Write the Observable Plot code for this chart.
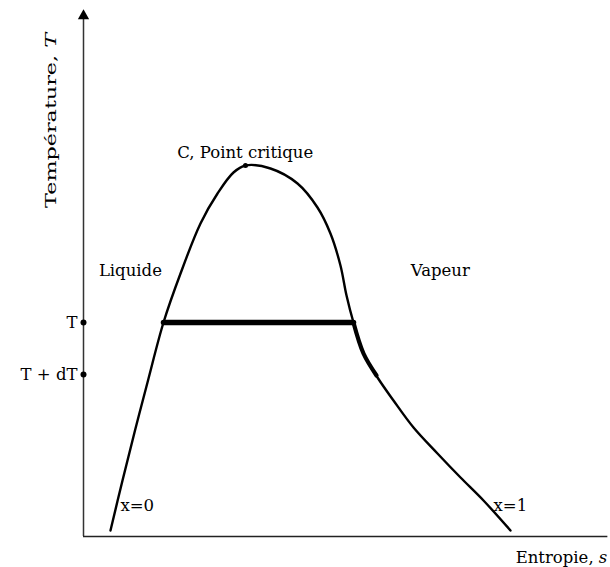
<!DOCTYPE html>
<html><head><meta charset="utf-8">
<script src="https://cdn.jsdelivr.net/npm/d3@7"></script>
<script src="https://cdn.jsdelivr.net/npm/@observablehq/plot@0.6"></script>
<style>body{margin:0;background:#fff} svg{display:block}</style>
</head><body><div id="chart"></div>
<script>
// Courbe de saturation (entropie s, température T) — unités arbitraires
const liquideS = [0.512, 0.740, 0.977, 1.224, 1.518, 1.841, 2.220, 2.543, 2.846, 3.074];
const liquideT = [0.114, 1.061, 2.008, 2.955, 4.053, 4.981, 5.928, 6.496, 6.894, 7.027];
const vapeurS = [3.074, 3.548, 4.061, 4.440, 4.686, 4.876, 4.991, 5.123, 5.313, 5.579, 5.882, 6.262, 6.717, 7.154, 7.590, 8.102];
const vapeurT = [7.027, 6.970, 6.686, 6.231, 5.739, 5.133, 4.564, 4.053, 3.466, 3.011, 2.576, 2.064, 1.572, 1.117, 0.682, 0.114];
// segment épais entre T et T + dT sur la courbe de vapeur
const dTS = [5.123, 5.313, 5.560];
const dTT = [4.053, 3.466, 3.050];
// palier horizontal à T
const palierS = [1.518, 5.123];
const palierT = 4.053;
// point critique
const critiqueS = 3.074, critiqueT = 7.027;
// repères sur l'axe des températures
const niveauxT = [4.053, 3.07];
const niveauxNoms = ["T", "T + dT"];
// étiquettes centrées
const etiquettes = ["Liquide", "Vapeur", "C, Point critique"];
const etiquettesS = [0.89, 6.77, 3.07];
const etiquettesT = [5.04, 5.04, 7.27];
// titres (x=0, x=1) alignés à gauche
const titres = ["x=0", "x=1"];
const titresS = [0.70, 7.78];
const titresT = [0.59, 0.59];
const titreX = "Entropie, s";
const titreY = "Température, T";

const courbe = liquideS.map((s, i) => ({s, T: liquideT[i]}))
  .concat(vapeurS.slice(1).map((s, i) => ({s, T: vapeurT[i + 1]})));
const segDT = dTS.map((s, i) => ({s, T: dTT[i]}));
const palier = palierS.map(s => ({s, T: palierT}));
const niveaux = niveauxT.map((T, i) => ({T, nom: niveauxNoms[i]}));
const labs = etiquettes.map((t, i) => ({t, s: etiquettesS[i], T: etiquettesT[i]}));
const titrs = titres.map((t, i) => ({t, s: titresS[i], T: titresT[i]}));

const font = "'DejaVu Serif', serif";
const chart = Plot.plot({
  width: 610, height: 567,
  marginLeft: 83, marginRight: 0, marginTop: 8, marginBottom: 31,
  x: {domain: [0, 10], axis: null},
  y: {domain: [0, 10], axis: null},
  style: {fontFamily: font, background: "#fff"},
  marks: [
    Plot.ruleX([0], {y1: 0, y2: 9.8, stroke: "#333", strokeWidth: 1.5}),
    Plot.dot([0], {x: 0, y: 9.86, symbol: "triangle", r: 4.2, fill: "#000", stroke: "none"}),
    Plot.ruleY([0], {x1: 0, x2: 9.95, stroke: "#222", strokeWidth: 1.5}),
    Plot.line(courbe, {x: "s", y: "T", curve: "catmull-rom", stroke: "#000", strokeWidth: 2.4}),
    Plot.line(segDT, {x: "s", y: "T", curve: "catmull-rom", stroke: "#000", strokeWidth: 4.2}),
    Plot.line(palier, {x: "s", y: "T", stroke: "#000", strokeWidth: 5.5}),
    Plot.dot([0], {x: critiqueS, y: critiqueT, r: 2.5, fill: "#000"}),
    Plot.dot(niveaux, {x: 0, y: "T", r: 3, fill: "#000"}),
    Plot.text(niveaux, {x: 0, y: "T", text: "nom", textAnchor: "end", dx: -6, fontSize: 16.5, fill: "#000"}),
    Plot.text(labs, {x: "s", y: "T", text: "t", textAnchor: "middle", fontSize: 16.5, fill: "#000"}),
    Plot.text(titrs, {x: "s", y: "T", text: "t", textAnchor: "start", fontSize: 16.5, fill: "#000"}),
    Plot.text([titreX], {x: 9.94, y: -0.40, text: d => d, textAnchor: "end", fontSize: 16.5, fill: "#000"}),
    Plot.text([titreY], {x: -0.61, y: 7.88, text: d => d, rotate: -90, fontSize: 15, fill: "#000"})
  ]
});
// italique pour les symboles de grandeur
d3.select(chart).selectAll("text").each(function() {
  const t = this.textContent;
  if (t === titreX || t === titreY) {
    const base = t.slice(0, -1), sym = t.slice(-1);
    const sel = d3.select(this);
    sel.text(base);
    sel.append("tspan").attr("font-style", "italic").text(sym);
    if (t === titreY) sel.attr("textLength", 175).attr("lengthAdjust", "spacingAndGlyphs");
  }
});
document.getElementById("chart").appendChild(chart);
</script>
</body></html>
